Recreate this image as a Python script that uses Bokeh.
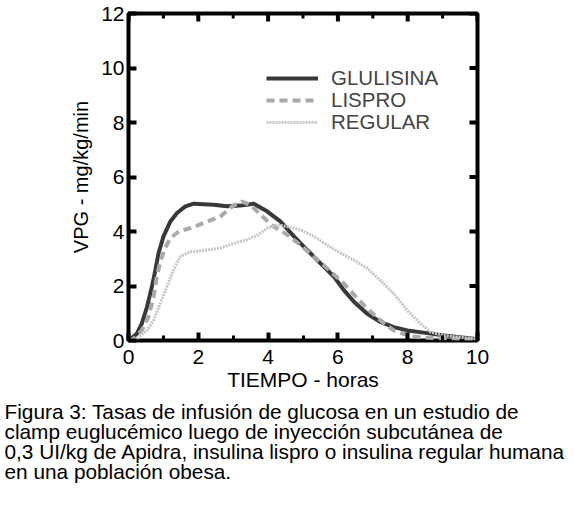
from bokeh.plotting import figure
from bokeh.models import Range1d, Legend, LegendItem, Title, FixedTicker
from bokeh.embed import file_html
from bokeh.resources import INLINE

# Data (time in hours, VPG in mg/kg/min)
t_glu = [0, 0.24, 0.38, 0.53, 0.67, 0.77, 0.86, 1.0, 1.2, 1.39, 1.63, 1.87, 2.44, 2.82, 3.2,
         3.59, 3.97, 4.35, 4.74, 5.12, 5.5, 5.89, 6.17, 6.46, 6.84, 7.22, 7.6, 7.99, 8.56, 9.04, 9.95]
v_glu = [0, 0.25, 0.62, 1.23, 1.97, 2.58, 3.2, 3.81, 4.37, 4.68, 4.92, 5.02, 4.98, 4.93, 4.95,
         5.02, 4.74, 4.37, 3.82, 3.32, 2.83, 2.34, 1.85, 1.42, 0.98, 0.68, 0.49, 0.37, 0.27, 0.18, 0.06]

t_lis = [0, 0.14, 0.38, 0.57, 0.72, 0.81, 0.91, 1.05, 1.2, 1.44, 1.77, 2.15, 2.63, 3.0, 3.25,
         3.49, 3.78, 4.16, 4.55, 4.93, 5.31, 5.69, 6.17, 6.56, 6.84, 7.22, 7.6, 8.09, 8.56, 9.52, 9.95]
v_lis = [0, 0.06, 0.37, 0.86, 1.6, 2.34, 2.89, 3.39, 3.76, 4.0, 4.12, 4.31, 4.55, 4.95, 5.1,
         4.98, 4.62, 4.18, 3.88, 3.5, 3.08, 2.65, 2.09, 1.54, 1.17, 0.74, 0.37, 0.15, 0.1, 0.06, 0.02]

t_reg = [0, 0.24, 0.53, 0.72, 0.91, 1.1, 1.29, 1.48, 1.77, 2.15, 2.63, 3.11, 3.4, 3.68, 3.97,
         4.26, 4.55, 4.93, 5.31, 5.69, 6.08, 6.46, 6.84, 7.22, 7.6, 7.99, 8.37, 8.66, 9.04, 9.52, 9.95]
v_reg = [0, 0.06, 0.37, 0.74, 1.36, 1.97, 2.58, 3.08, 3.26, 3.3, 3.39, 3.6, 3.7, 3.85, 4.12,
         4.25, 4.18, 4.06, 3.82, 3.5, 3.2, 2.95, 2.65, 2.2, 1.72, 1.1, 0.62, 0.31, 0.18, 0.12, 0.06]

series_names = ["GLULISINA", "LISPRO", "REGULAR"]
x_ticks = [0, 2, 4, 6, 8, 10]
x_minor = [1, 3, 5, 7, 9]
y_ticks = [0, 2, 4, 6, 8, 10, 12]
caption = [
    "Figura 3: Tasas de infusión de glucosa en un estudio de",
    "clamp euglucémico luego de inyección subcutánea de",
    "0,3 UI/kg de Apidra, insulina lispro o insulina regular humana",
    "en una población obesa.",
]

FONT = "Liberation Sans"
X0, X1, Y0, Y1 = 0, 10, 0, 12
FW, FH = 349, 327

p = figure(frame_width=FW, frame_height=FH,
           x_range=Range1d(X0, X1), y_range=Range1d(Y0, Y1),
           output_backend="svg", toolbar_location=None,
           min_border_left=128, min_border_top=13, min_border_right=97,
           min_border_bottom=0, background_fill_color="white",
           border_fill_color="white")
p.grid.visible = False
p.outline_line_color = "black"
p.outline_line_width = 4

for ax in (p.xaxis[0], p.yaxis[0]):
    ax.axis_line_color = None
    ax.major_tick_in = 8
    ax.major_tick_out = 0
    ax.major_tick_line_width = 4
    ax.major_tick_line_color = "black"
    ax.minor_tick_in = 5
    ax.minor_tick_out = 0
    ax.minor_tick_line_width = 3
    ax.minor_tick_line_color = "black"
    ax.major_label_text_font = FONT
    ax.major_label_text_font_size = "21px"
    ax.major_label_text_color = "black"
    ax.axis_label_text_font = FONT
    ax.axis_label_text_font_style = "normal"
    ax.axis_label_text_color = "black"

p.xaxis.ticker = FixedTicker(ticks=x_ticks, minor_ticks=x_minor)
p.yaxis.ticker = FixedTicker(ticks=y_ticks)
p.yaxis.minor_tick_line_color = None
p.xaxis.axis_label = "TIEMPO - horas"
p.yaxis.axis_label = "VPG - mg/kg/min"
p.xaxis.axis_label_text_font_size = "21px"
p.yaxis.axis_label_text_font_size = "20px"
p.xaxis.major_label_standoff = 9
p.yaxis.major_label_standoff = 4
p.xaxis.axis_label_standoff = 1
p.yaxis.axis_label_standoff = 6

# inward ticks on the top and right edges of the frame
px_y = (Y1 - Y0) / FH
px_x = (X1 - X0) / FW
p.segment(x0=x_ticks, y0=[Y1] * len(x_ticks), x1=x_ticks, y1=[Y1 - 8 * px_y] * len(x_ticks),
          line_color="black", line_width=4)
p.segment(x0=x_minor, y0=[Y1] * len(x_minor), x1=x_minor, y1=[Y1 - 5 * px_y] * len(x_minor),
          line_color="black", line_width=3)
p.segment(x0=[X1] * len(y_ticks), y0=y_ticks, x1=[X1 - 8 * px_x] * len(y_ticks), y1=y_ticks,
          line_color="black", line_width=4)

r_glu = p.line(t_glu, v_glu, line_color="#383838", line_width=4)
r_lis = p.line(t_lis, v_lis, line_color="#aaaaaa", line_width=4, line_dash="8 5")
r_reg = p.line(t_reg, v_reg, line_color="#c6c6c6", line_width=3, line_dash="2 1")

for name, rend, ypos in zip(series_names, [r_glu, r_lis, r_reg], [250, 228, 206]):
    lg = Legend(items=[LegendItem(label=name, renderers=[rend])],
                location=(138, ypos), border_line_color=None, background_fill_alpha=0,
                padding=0, margin=0, spacing=0, glyph_width=52, glyph_height=20,
                label_height=20, label_standoff=13,
                label_text_font=FONT, label_text_font_size="20.5px")
    p.add_layout(lg)

p.add_layout(Title(text="\n".join(caption), align="left", offset=-124, standoff=10,
                   text_font=FONT, text_font_size="20.8px", text_line_height=0.87,
                   text_font_style="normal", text_color="black"), "below")

open("out.html", "w").write(file_html(p, INLINE))
